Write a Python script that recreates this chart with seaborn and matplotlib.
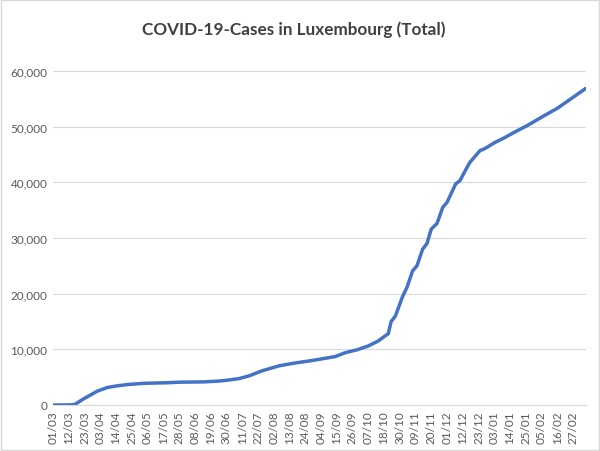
import pandas as pd
import matplotlib.pyplot as plt
import matplotlib.ticker as mticker
import seaborn as sns

# Total cases (day = days since 01/03/2020)
days = [0, 11, 15, 22, 31, 38, 45, 53, 64, 80, 88, 105, 116, 123, 130, 137,
        146, 158, 169, 181, 197, 204, 212, 220, 227, 232, 234, 236, 239, 244,
        247, 251, 254, 258, 261, 264, 268, 272, 275, 281, 284, 289, 291, 295,
        298, 301, 308, 315, 322, 331, 343, 352, 362, 372]
cases = [0, 20, 80, 1200, 2500, 3150, 3450, 3700, 3900, 4000, 4100, 4150,
         4300, 4500, 4750, 5250, 6150, 7050, 7550, 8000, 8700, 9400, 9900,
         10600, 11500, 12450, 12800, 15000, 16000, 19500, 21100, 24100, 25000,
         28000, 29000, 31600, 32600, 35500, 36400, 39700, 40300, 42700, 43600,
         44800, 45700, 46000, 47100, 48000, 49000, 50200, 52000, 53300, 55100,
         56900]

tick_labels = ['01/03', '12/03', '23/03', '03/04', '14/04', '25/04', '06/05',
               '17/05', '28/05', '08/06', '19/06', '30/06', '11/07', '22/07',
               '02/08', '13/08', '24/08', '04/09', '15/09', '26/09', '07/10',
               '18/10', '30/10', '09/11', '20/11', '01/12', '12/12', '23/12',
               '03/01', '14/01', '25/01', '05/02', '16/02', '27/02']

df = pd.DataFrame({'day': days, 'cases': cases})

sns.set_style('white')
plt.rcParams['font.family'] = ['Lato', 'DejaVu Sans']

fig = plt.figure(figsize=(6, 4.52), dpi=100)
ax = fig.add_axes([53 / 600, 46 / 452, 533 / 600, 334 / 452])

sns.lineplot(data=df, x='day', y='cases', color='#4472C4', linewidth=2.5, ax=ax)

ax.set_xlim(0, df['day'].max())
ax.set_ylim(0, 60000)
ax.set_xticks(range(0, 11 * len(tick_labels), 11))
ax.set_xticklabels(tick_labels, rotation=90)
ax.set_yticks(range(0, 60001, 10000))
ax.yaxis.set_major_formatter(mticker.FuncFormatter(lambda v, p: f'{int(v):,}'))
ax.tick_params(length=0, labelsize=8.5, labelcolor='#595959', pad=4)
ax.grid(axis='y', color='#d9d9d9', linewidth=0.8)
ax.set_axisbelow(True)
for s in ['top', 'right', 'left']:
    ax.spines[s].set_visible(False)
ax.spines['bottom'].set_color('#d9d9d9')
ax.spines['bottom'].set_linewidth(0.8)
ax.set_xlabel('')
ax.set_ylabel('')

fig.text(0.49, 1 - 30 / 452, 'COVID-19-Cases in Luxembourg (Total)', ha='center',
         va='center', fontsize=12.3, fontweight='bold', color='#404040')

# chart area border
fig.patches.append(plt.Rectangle((0.002, 0.002), 0.996, 0.996, transform=fig.transFigure,
                                 fill=False, edgecolor='#d9d9d9', linewidth=1))

fig.savefig('out.png', dpi=100)
